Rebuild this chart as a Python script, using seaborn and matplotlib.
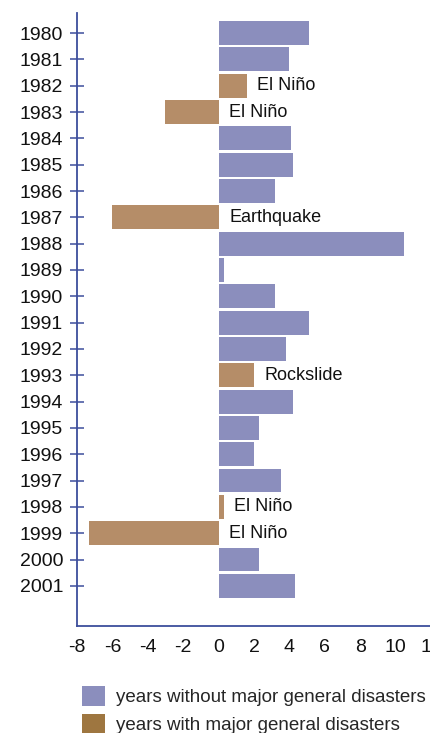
import matplotlib
matplotlib.use("Agg")
import matplotlib.pyplot as plt
import seaborn as sns
import pandas as pd
from matplotlib.patches import Patch

years = [str(y) for y in range(1980, 2002)]
values = [5.1, 4.0, 1.6, -3.0, 4.1, 4.2, 3.2, -6.0, 10.5, 0.3, 3.2,
          5.1, 3.8, 2.0, 4.2, 2.3, 2.0, 3.5, 0.3, -7.3, 2.3, 4.3]
disaster = [False, False, True, True, False, False, False, True, False, False, False,
            False, False, True, False, False, False, False, True, True, False, False]
events = ["", "", "El Niño", "El Niño", "", "", "", "Earthquake", "", "", "",
          "", "", "Rockslide", "", "", "", "", "El Niño", "El Niño", "", ""]
x_ticks = [-8, -6, -4, -2, 0, 2, 4, 6, 8, 10, 12]
legend_labels = ["years without major general disasters", "years with major general disasters"]

BLUE = "#8B8EBD"
BROWN = "#B58D68"
BROWN_LEG = "#9E7640"
AXC = "#3D4E9C"

df = pd.DataFrame({"year": years, "value": values,
                   "kind": ["with" if d else "without" for d in disaster]})

sns.set_style("white")
plt.rcParams["font.family"] = ["Liberation Sans", "DejaVu Sans"]

fig = plt.figure(figsize=(4.31, 7.33), dpi=100)
ax = fig.add_axes([77 / 431, (733 - 626) / 733, (431 - 77) / 431, (626 - 13) / 733])

sns.barplot(data=df, x="value", y="year", hue="kind", order=years,
            hue_order=["without", "with"], palette={"without": BLUE, "with": BROWN},
            dodge=False, orient="h", width=0.9, saturation=1, legend=False, ax=ax,
            edgecolor="none", linewidth=0)

ax.set_xlim(-8, 12)
ax.set_ylim(22.52, -0.76)
ax.set_xticks(x_ticks)
ax.set_xticklabels([str(t) for t in x_ticks])
ax.set_xlabel("")
ax.set_ylabel("")

for i, (v, ev) in enumerate(zip(values, events)):
    if ev:
        ax.annotate(ev, xy=(max(v, 0), i), xytext=(7.5, 0), textcoords="offset points",
                    va="center", ha="left", fontsize=13, color="#111111")

for s in ["top", "right"]:
    ax.spines[s].set_visible(False)
for s in ["left", "bottom"]:
    ax.spines[s].set_color(AXC)
    ax.spines[s].set_linewidth(1.3)

ax.tick_params(axis="x", direction="in", length=12, width=1.1, color=AXC,
               pad=9, labelsize=14, labelcolor="#111111")
ax.tick_params(axis="y", direction="inout", length=10, width=1.1, color=AXC,
               pad=5, labelsize=14, labelcolor="#111111", left=True)

handles = [Patch(facecolor=BLUE, edgecolor="none"), Patch(facecolor=BROWN_LEG, edgecolor="none")]
fig.legend(handles, legend_labels, loc="upper left", bbox_to_anchor=(78 / 431, 1 - 682 / 733),
           frameon=False, fontsize=13.5, handlelength=1.25, handleheight=1.25,
           handletextpad=0.6, labelspacing=0.42, borderaxespad=0, borderpad=0.2)

fig.savefig("out.png", dpi=100)
